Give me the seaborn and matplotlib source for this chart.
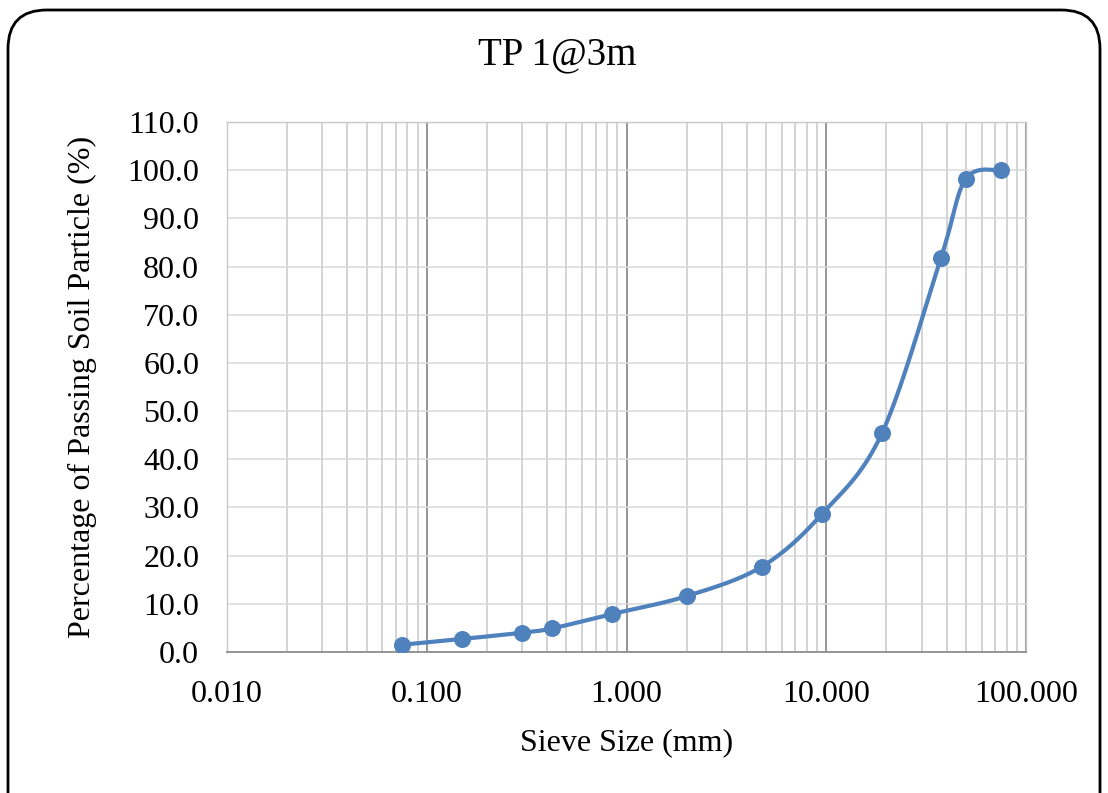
import numpy as np
import pandas as pd
import matplotlib
matplotlib.use("Agg")
import matplotlib.pyplot as plt
import seaborn as sns
from matplotlib.patches import FancyBboxPatch
from matplotlib.ticker import FixedLocator, LogLocator, NullFormatter, FuncFormatter

sieve_mm = [0.075, 0.15, 0.3, 0.425, 0.85, 2.0, 4.75, 9.5, 19.0, 37.5, 50.0, 75.0]
passing = [1.5, 2.7, 4.0, 4.9, 7.9, 11.6, 17.7, 28.6, 45.4, 81.8, 98.2, 100.0]
x_ticks = [0.01, 0.1, 1, 10, 100]
x_tick_labels = ["0.010", "0.100", "1.000", "10.000", "100.000"]
y_ticks = list(range(0, 111, 10))

title = "TP 1@3m"
xlabel = "Sieve Size (mm)"
ylabel = "Percentage of Passing Soil Particle (%)"

sns.set_theme(style="white")
plt.rcParams['font.family'] = ['Liberation Serif', 'DejaVu Serif']
plt.rcParams['text.color'] = 'black'
plt.rcParams['axes.labelcolor'] = 'black'

color = "#4F81BD"

def excel_smooth(xs, ys, sx=200.0, sy=4.82, n=40):
    # Catmull-Rom style bezier smoothing (Excel-like) in display-scaled space
    px = np.log10(np.array(xs)) * sx
    py = np.array(ys) * sy
    outx, outy = [], []
    N = len(px)
    for i in range(N - 1):
        p0 = np.array([px[max(i - 1, 0)], py[max(i - 1, 0)]])
        p1 = np.array([px[i], py[i]])
        p2 = np.array([px[i + 1], py[i + 1]])
        p3 = np.array([px[min(i + 2, N - 1)], py[min(i + 2, N - 1)]])
        c1 = p1 + (p2 - p0) / 6.0
        c2 = p2 - (p3 - p1) / 6.0
        t = np.linspace(0, 1, n)[:, None]
        b = ((1 - t) ** 3) * p1 + 3 * ((1 - t) ** 2) * t * c1 + 3 * (1 - t) * t ** 2 * c2 + t ** 3 * p2
        if i > 0:
            b = b[1:]
        outx.extend(b[:, 0]); outy.extend(b[:, 1])
    return 10 ** (np.array(outx) / sx), np.array(outy) / sy

cx, cy = excel_smooth(sieve_mm, passing)
curve = pd.DataFrame({"x": cx, "y": cy})
pts = pd.DataFrame({"x": sieve_mm, "y": passing})

fig = plt.figure(figsize=(11.08, 7.93), dpi=100)
ax = fig.add_axes([227/1108, 1 - 652/793, (1026 - 227)/1108, (652 - 122)/793])

ax.set_xscale("log")
ax.set_xlim(0.01, 100)
ax.set_ylim(0, 110)

sns.lineplot(data=curve, x="x", y="y", sort=False, ax=ax, color=color, linewidth=3.0, zorder=3)
sns.scatterplot(data=pts, x="x", y="y", ax=ax, color=color, s=150, edgecolor=color, linewidth=0, zorder=4)

ax.xaxis.set_major_locator(FixedLocator(x_ticks))
ax.set_xticklabels(x_tick_labels)
ax.xaxis.set_minor_locator(LogLocator(base=10, subs=np.arange(2, 10)))
ax.xaxis.set_minor_formatter(NullFormatter())
ax.set_yticks(y_ticks)
ax.yaxis.set_major_formatter(FuncFormatter(lambda v, p: f"{v:.1f}"))

ax.grid(True, which="major", axis="x", color="#8c8c8c", linewidth=1.3)
ax.grid(True, which="minor", axis="x", color="#c8c8c8", linewidth=1.1)
ax.grid(True, which="major", axis="y", color="#d9d9d9", linewidth=1.1)
ax.set_axisbelow(True)

for s in ["top", "right", "left"]:
    ax.spines[s].set_color("#c8c8c8")
    ax.spines[s].set_linewidth(1.0)
ax.spines["bottom"].set_color("#8c8c8c")
ax.spines["bottom"].set_linewidth(1.3)

ax.tick_params(axis="both", which="both", length=0, labelsize=23, colors="black")
ax.tick_params(axis="x", pad=20)
ax.tick_params(axis="y", pad=20)

ax.set_xlabel(xlabel, fontsize=23, labelpad=14)
ax.set_ylabel(ylabel, fontsize=23, labelpad=22)
fig.text(557/1108, 1 - 55/793, title, ha="center", va="center", fontsize=28)

box = FancyBboxPatch((8/1108, -0.05), (1100 - 8)/1108, 1 - 10/793 + 0.05,
                     boxstyle="round,pad=0,rounding_size=0.035", transform=fig.transFigure,
                     facecolor="none", edgecolor="black", linewidth=2, mutation_aspect=1108/793)
fig.patches.append(box)

fig.savefig("out.png", dpi=100)
